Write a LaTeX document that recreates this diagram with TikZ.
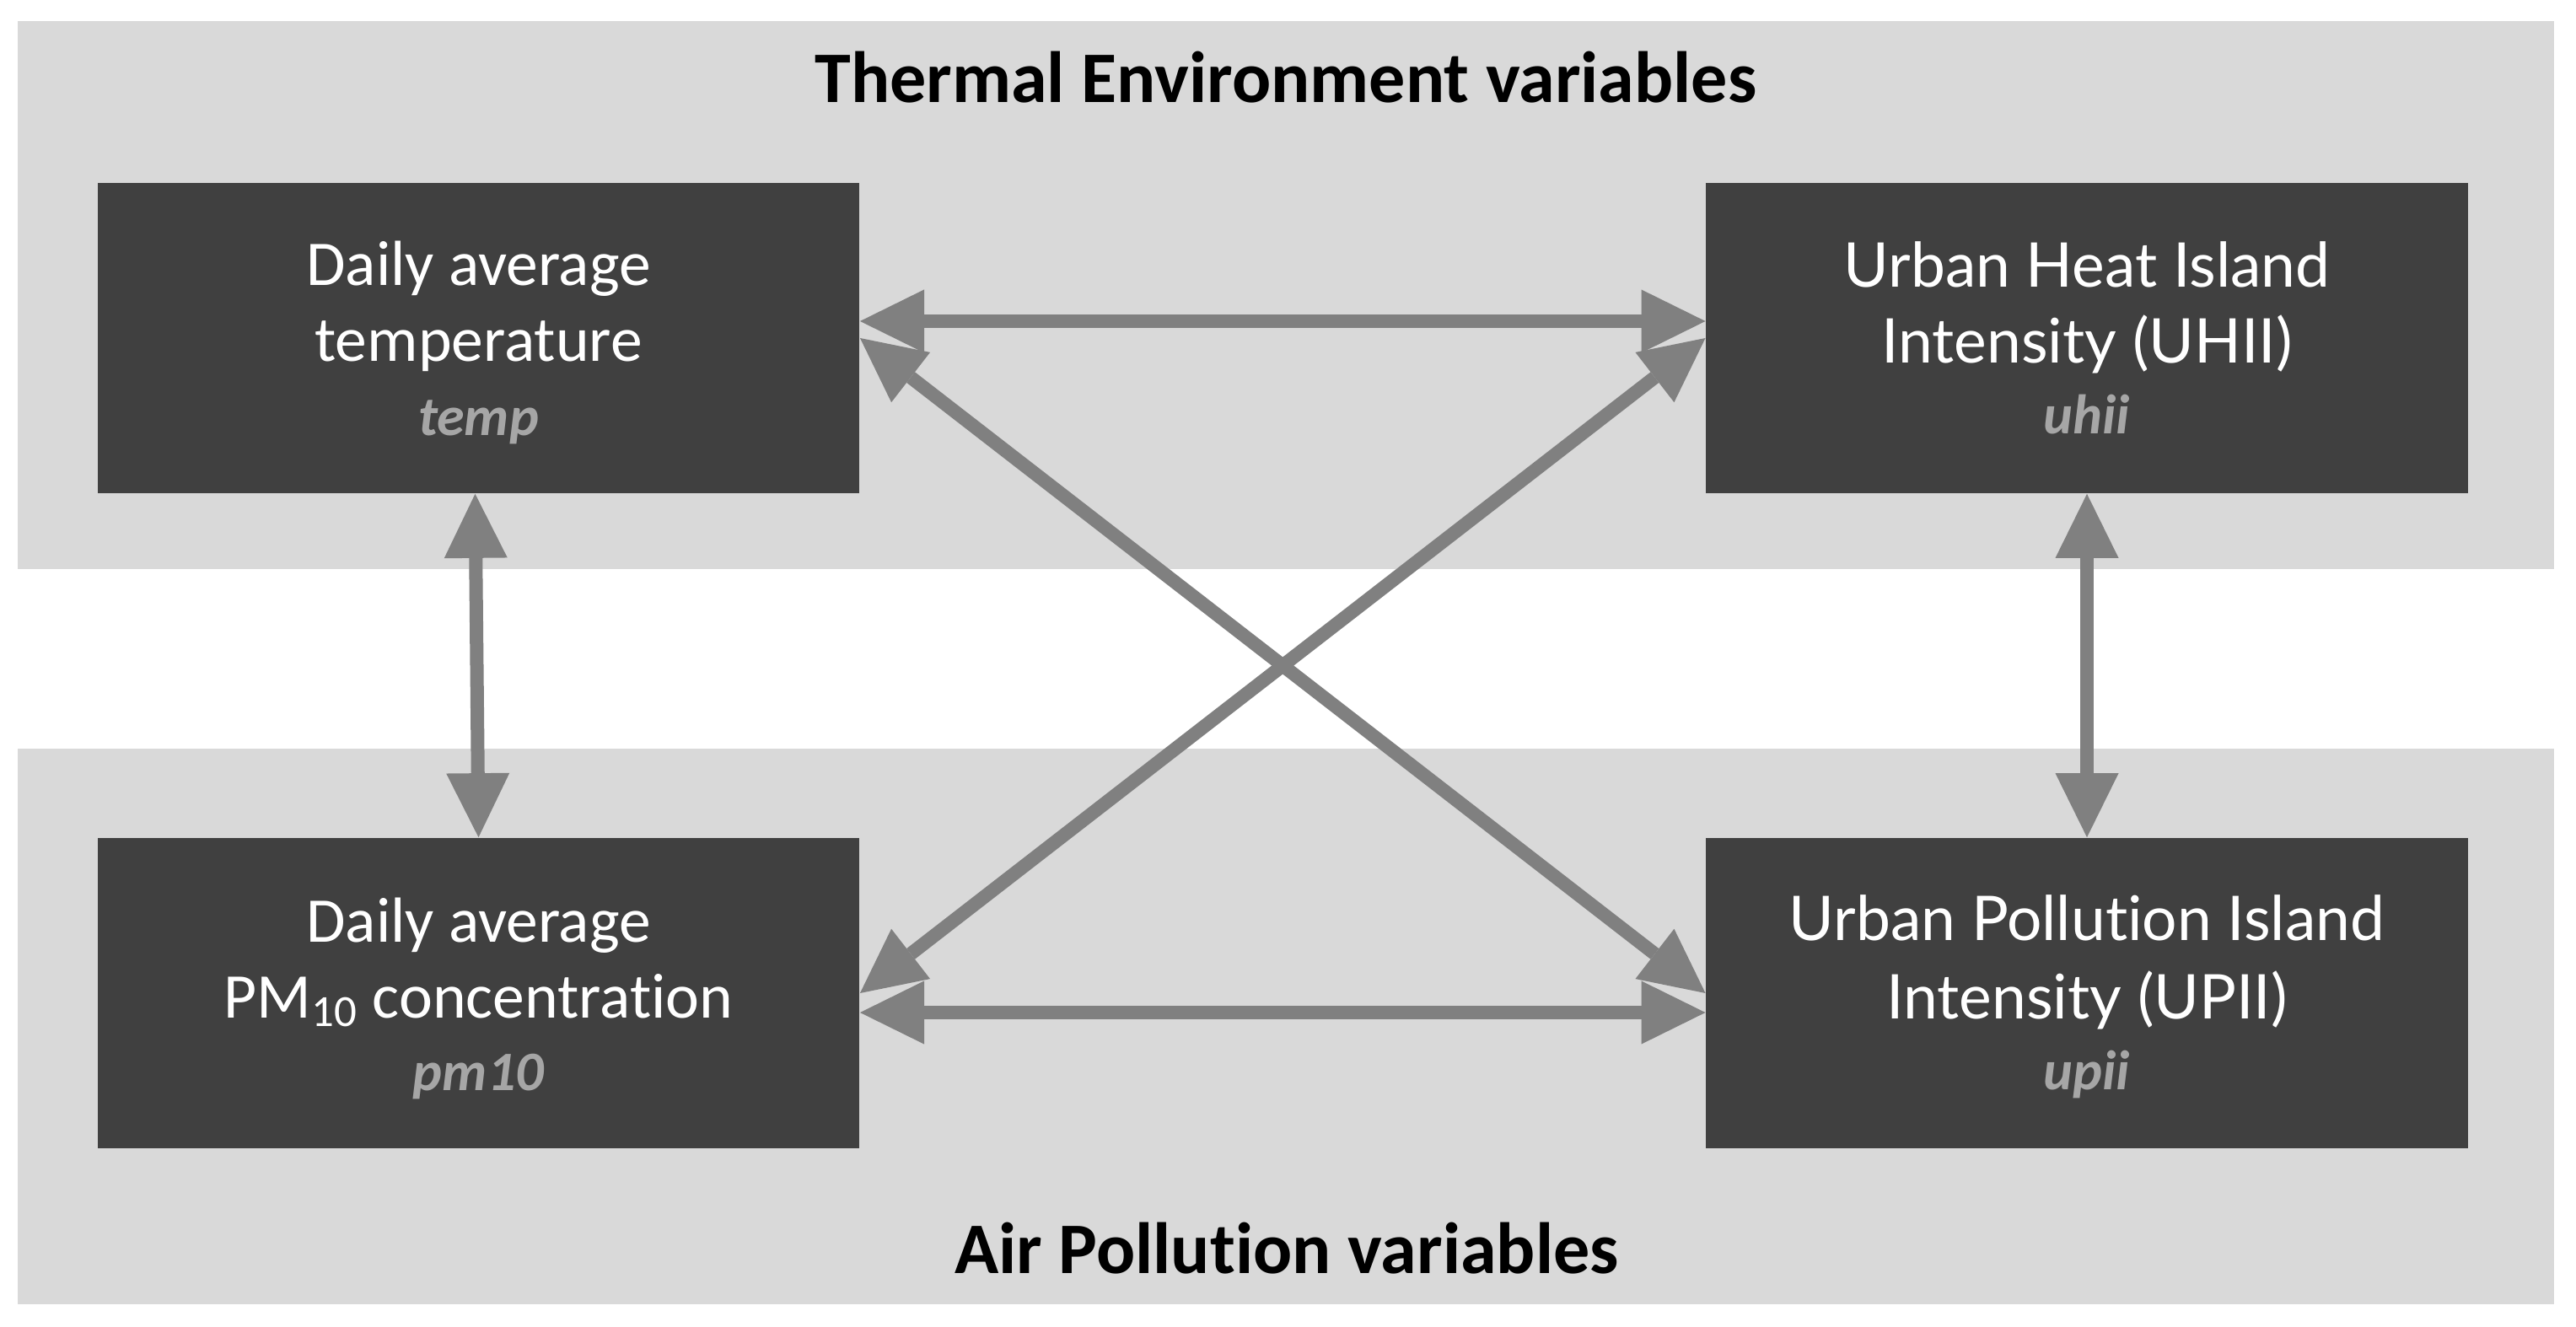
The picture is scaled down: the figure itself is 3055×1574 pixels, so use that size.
\documentclass[tikz,border=0pt]{standalone}
\usepackage{fontspec}
\setmainfont{Carlito}[Ligatures=CommonOff]
\newfontfamily\latofont{Lato}[Ligatures=CommonOff]
\usetikzlibrary{arrows.meta}
\definecolor{panelgray}{HTML}{D9D9D9}
\definecolor{boxgray}{HTML}{404040}
\definecolor{arrowgray}{HTML}{808080}
\definecolor{labelgray}{HTML}{A6A6A6}
\tikzset{
  varbox/.style={fill=boxgray, draw=none, minimum width=9.03cm, minimum height=3.68cm, inner sep=0pt},
  ltxt/.style={text=white, font=\fontsize{21.5}{25}\selectfont, anchor=base, inner sep=0pt},
  rtxt/.style={text=white, font=\latofont\fontsize{20.8}{25}\selectfont, anchor=base, inner sep=0pt},
  vlbl/.style={text=labelgray, font=\fontsize{18.8}{22}\selectfont\bfseries\itshape, anchor=base, inner sep=0pt},
  ttl/.style={text=black, font=\fontsize{24.5}{29}\selectfont\bfseries, anchor=base, inner sep=0pt},
  tip/.tip={Triangle[length=0.76cm, width=0.75cm, line width=0pt]},
  conn/.style={draw=arrowgray, line width=0.16cm, tip-tip}
}
\begin{document}
\begin{tikzpicture}[x=0.01cm, y=-0.01cm]
\useasboundingbox (0,0) rectangle (3055,1574);
% panels
\fill[panelgray] (21,25) rectangle (3029,675);
\fill[panelgray] (21,888) rectangle (3029,1547);
% titles
\node[ttl] (ttop) at (1525,122) {Thermal Environment variables};
\node[ttl] (tbot) at (1526,1510) {Air Pollution variables};
% boxes
\node[varbox] (temp) at (567.5,401) {};
\node[varbox] (uhii) at (2475,401) {};
\node[varbox] (pm10) at (567.5,1178) {};
\node[varbox] (upii) at (2475,1178) {};
% texts
\node[ltxt] (temp1) at (567.5,339) {Daily average};
\node[ltxt] (temp2) at (567.5,429) {temperature};
\node[vlbl] (temp3) at (567.5,517) {temp};
\node[rtxt] (uhii1) at (2475,341) {Urban Heat Island};
\node[rtxt] (uhii2) at (2475,431) {Intensity (UHII)};
\node[vlbl] (uhii3) at (2475,515) {uhii};
\node[ltxt] (pm1) at (567.5,1117) {Daily average};
\node[ltxt] (pm2) at (567.5,1207) {PM\textsubscript{10} concentration};
\node[vlbl] (pm3) at (567.5,1293) {pm10};
\node[rtxt] (upii1) at (2475,1116) {Urban Pollution Island};
\node[rtxt] (upii2) at (2475,1208) {Intensity (UPII)};
\node[vlbl] (upii3) at (2475,1292) {upii};
% connectors
\draw[conn] ([yshift=0.2cm]temp.east) -- ([yshift=0.2cm]uhii.west);
\draw[conn] ([yshift=-0.23cm]pm10.east) -- ([yshift=-0.23cm]upii.west);
\draw[conn] (temp.east) -- (upii.west);
\draw[conn] (uhii.west) -- (pm10.east);
\draw[conn] ([xshift=-0.04cm]temp.south) -- (pm10.north);
\draw[conn] (uhii.south) -- (upii.north);
\end{tikzpicture}
\end{document}
